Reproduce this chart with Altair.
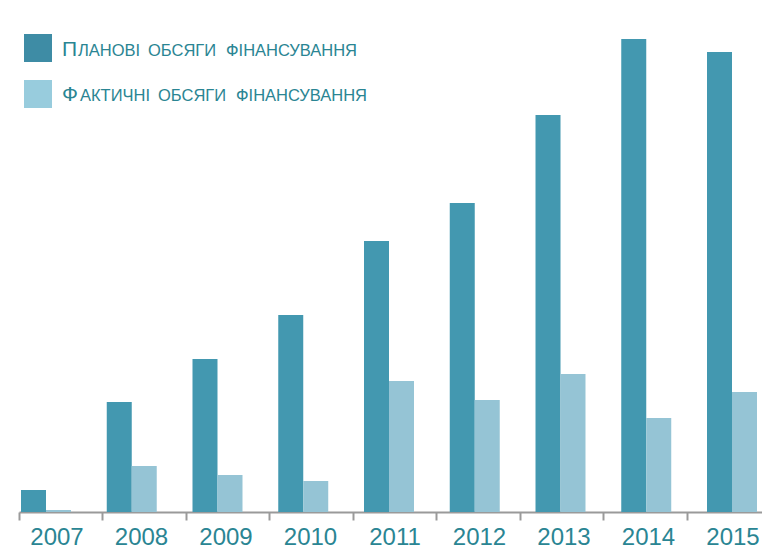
import altair as alt
import pandas as pd

# ---- data (bar heights, arbitrary units) ----
years = ["2007", "2008", "2009", "2010", "2011", "2012", "2013", "2014", "2015"]
planned = [22, 110, 153, 197, 271, 309, 397, 473, 460]
actual = [2, 46, 37, 31, 131, 112, 138, 94, 120]
series = ["Планові обсяги фінансування", "Фактичні обсяги фінансування"]
bar_colors = ["#4398B0", "#95C4D5"]
swatch_colors = ["#3E8CA5", "#98CCDD"]

# ---- style / layout ----
W, H = 743, 504
TEXT = "#2A8593"
GREY = "#9a9a9a"
FONT = "Liberation Sans"
swatch_top = [26, 72]
legend_baseline = [48, 93]
initial_x = 43
word_x = [[59, 129, 207], [61, 139, 217]]

rows = []
for i, yr in enumerate(years):
    rows.append({"year": yr, "series": series[0], "value": planned[i]})
    rows.append({"year": yr, "series": series[1], "value": actual[i]})
df = pd.DataFrame(rows)
ydf = pd.DataFrame({"year": years})

axis_layer = alt.Chart(ydf).mark_point(opacity=0).encode(
    x=alt.X("year:N", sort=years,
            scale=alt.Scale(type="band", range=[0, 751], paddingInner=0, paddingOuter=0),
            axis=alt.Axis(title=None, labels=False, tickBand="extent", tickSize=8,
                          tickWidth=2, tickColor=GREY, domainColor=GREY,
                          domainWidth=2, grid=False)),
    y=alt.value(0),
)

bars = alt.Chart(df).mark_bar().encode(
    x=alt.X("year:N", sort=years,
            scale=alt.Scale(type="band", range=[2, 738], paddingInner=0.417, paddingOuter=0),
            axis=None),
    xOffset=alt.XOffset("series:N", sort=series,
                        scale=alt.Scale(paddingInner=0, paddingOuter=0)),
    y=alt.Y("value:Q", scale=alt.Scale(domain=[0, H], nice=False, zero=True), axis=None),
    color=alt.Color("series:N", sort=series,
                    scale=alt.Scale(domain=series, range=bar_colors), legend=None),
)

labels = alt.Chart(ydf).mark_text(fontSize=24, font=FONT, color=TEXT,
                                  baseline="alphabetic", align="center").encode(
    x=alt.X("year:N", sort=years,
            scale=alt.Scale(type="point", range=[38, 714], padding=0), axis=None),
    y=alt.value(537),
    text="year:N",
)

layers = [axis_layer, bars, labels]

for i, name in enumerate(series):
    d = pd.DataFrame({"t": [name]})
    sw = alt.Chart(d).mark_rect(color=swatch_colors[i]).encode(
        x=alt.value(5), x2=alt.value(33),
        y=alt.value(swatch_top[i]), y2=alt.value(swatch_top[i] + 28),
    )
    layers.append(sw)
    init = alt.Chart(pd.DataFrame({"t": [name[0].upper()]})).mark_text(
        fontSize=21, font=FONT, color=TEXT, align="left", baseline="alphabetic"
    ).encode(x=alt.value(initial_x), y=alt.value(legend_baseline[i]), text="t:N")
    layers.append(init)
    words = name[1:].upper().split()
    for j, w in enumerate(words):
        wl = alt.Chart(pd.DataFrame({"t": [w]})).mark_text(
            fontSize=16.5, font=FONT, color=TEXT, align="left", baseline="alphabetic"
        ).encode(x=alt.value(word_x[i][j]), y=alt.value(legend_baseline[i]), text="t:N")
        layers.append(wl)

chart = alt.layer(*layers).resolve_scale(
    x="independent", y="independent"
).properties(
    width=W, height=H,
    padding={"left": 11, "top": 0, "right": 0, "bottom": 37},
    autosize=alt.AutoSizeParams(type="none"),
    background="white",
).configure_view(stroke=None)

chart.save("out.html", embed_options={"renderer": "svg", "actions": False})
